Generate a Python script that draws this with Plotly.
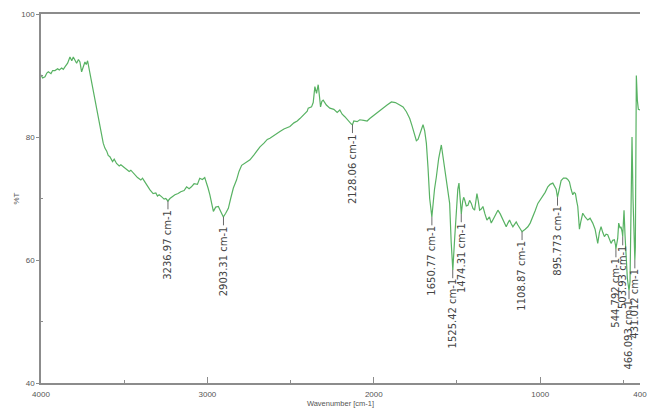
import plotly.graph_objects as go

wavenumber = [4000, 3990, 3976, 3965, 3956, 3940, 3930, 3916, 3900, 3890, 3876, 3866, 3856, 3840,
              3826, 3815, 3806, 3795, 3786, 3775, 3766, 3756, 3746, 3736, 3728, 3720, 3706, 3696,
              3686, 3676, 3666, 3656, 3646, 3636, 3626, 3616, 3605, 3596, 3586, 3570, 3560, 3546,
              3530, 3520, 3496, 3470, 3460, 3436, 3420, 3400, 3390, 3376, 3360, 3345, 3326, 3310,
              3300, 3290, 3276, 3260, 3250, 3237, 3225, 3210, 3195, 3176, 3160, 3140, 3125, 3110,
              3096, 3080, 3060, 3046, 3030, 3016, 3005, 2996, 2985, 2975, 2964, 2950, 2934, 2920,
              2904, 2890, 2874, 2860, 2844, 2825, 2810, 2794, 2770, 2744, 2720, 2700, 2684, 2660,
              2640, 2624, 2600, 2580, 2564, 2540, 2520, 2504, 2480, 2460, 2444, 2420, 2400, 2394,
              2374, 2364, 2354, 2344, 2334, 2326, 2320, 2312, 2304, 2285, 2264, 2240, 2220, 2204,
              2190, 2174, 2150, 2135, 2128, 2120, 2100, 2084, 2060, 2040, 2024, 2010, 1990, 1964,
              1940, 1920, 1894, 1870, 1844, 1824, 1804, 1784, 1770, 1755, 1744, 1734, 1720, 1704,
              1694, 1684, 1674, 1664, 1651, 1645, 1635, 1624, 1610, 1594, 1580, 1564, 1550, 1544,
              1535, 1525, 1515, 1504, 1495, 1488, 1480, 1474, 1466, 1460, 1454, 1444, 1434, 1424,
              1414, 1404, 1394, 1380, 1372, 1364, 1354, 1344, 1332, 1320, 1305, 1294, 1275, 1254,
              1240, 1224, 1212, 1204, 1194, 1184, 1174, 1164, 1154, 1144, 1134, 1124, 1109, 1090,
              1074, 1060, 1044, 1030, 1014, 1000, 984, 970, 954, 940, 924, 912, 904, 896, 885,
              874, 860, 844, 834, 824, 814, 804, 796, 788, 780, 774, 768, 764, 756, 744, 730,
              714, 700, 684, 670, 660, 654, 644, 634, 624, 614, 604, 594, 584, 574, 564, 554,
              547, 545, 534, 528, 520, 514, 507, 504, 500, 496, 490, 484, 476, 466, 460, 454,
              448, 442, 434, 431, 428, 422, 416, 410, 400]
transmittance = [90.1, 89.6, 89.8, 90.4, 90.6, 90.3, 90.8, 90.8, 91.1, 90.9, 91.2, 91.0, 91.4, 92.0,
                 93.0, 92.4, 93.0, 92.3, 92.0, 92.6, 92.2, 90.6, 91.6, 92.2, 91.8, 92.4, 90.4, 89.0,
                 87.6, 86.0, 84.4, 83.2, 81.7, 80.5, 79.0, 78.2, 77.7, 77.0, 76.8, 76.0, 76.4, 75.7,
                 75.3, 75.5, 74.9, 74.4, 74.6, 73.8, 73.4, 73.0, 73.3, 72.7, 72.0, 71.4, 70.8, 70.9,
                 70.4, 70.6, 70.3, 69.9, 70.0, 69.6, 70.0, 70.3, 70.6, 70.8, 71.1, 71.3, 71.9, 71.6,
                 71.9, 72.4, 72.3, 73.3, 73.1, 73.4, 72.6, 71.7, 70.6, 69.0, 67.9, 68.6, 68.7, 67.9,
                 67.0, 67.6, 68.4, 70.0, 71.7, 73.0, 74.4, 75.4, 75.9, 76.3, 77.1, 77.8, 78.4, 79.0,
                 79.6, 79.8, 80.3, 80.7, 80.9, 81.3, 81.5, 81.7, 82.3, 82.6, 83.0, 83.6, 84.2, 84.7,
                 84.9, 85.6, 88.2, 87.1, 88.5, 86.5, 84.9, 85.8, 86.0, 85.2, 84.7, 84.5, 84.0, 84.4,
                 83.7, 83.3, 82.5, 82.1, 82.0, 82.6, 82.5, 82.8, 82.7, 82.6, 83.0, 83.3, 83.8, 84.4,
                 84.8, 85.2, 85.7, 85.6, 85.2, 84.9, 84.1, 83.0, 81.8, 80.4, 79.4, 79.6, 80.6, 82.0,
                 81.0, 79.0, 75.0, 70.0, 67.0, 69.0, 71.5, 73.5, 76.5, 78.7, 76.0, 73.5, 71.0, 69.2,
                 63.0, 58.4, 63.0, 68.1, 71.5, 72.5, 70.0, 67.5, 69.5, 70.2, 69.8, 68.8, 68.9, 69.7,
                 69.2, 68.4, 68.1, 70.8, 69.6, 68.1, 68.3, 68.7, 67.5, 66.5, 67.0, 66.0, 67.0, 68.1,
                 67.5, 66.5, 65.8, 65.4, 66.0, 66.5, 65.9, 65.4, 65.8, 66.2, 65.7, 65.2, 64.6, 65.0,
                 65.4, 66.0, 67.0, 68.0, 69.2, 69.8, 70.3, 71.0, 71.9, 72.3, 72.5, 72.0, 71.5, 70.2, 71.5,
                 72.9, 73.3, 73.3, 73.1, 72.7, 71.5, 70.6, 71.0, 70.8, 69.5, 68.7, 66.5, 65.0, 66.2, 67.6, 67.0,
                 66.5, 66.8, 66.0, 65.0, 63.3, 62.7, 64.5, 65.4, 64.5, 63.8, 64.2, 64.1, 63.4, 62.7, 63.2, 63.3,
                 62.4, 61.8, 63.5, 66.0, 65.2, 65.4, 64.5, 63.8, 66.0, 68.1, 64.0, 61.5, 57.0, 55.0, 56.5, 68.0,
                 80.0, 70.0, 61.0, 60.0, 62.0, 90.0, 86.0, 84.5, 84.4]

peak_wavenumber = [3236.97, 2903.31, 2128.06, 1650.77, 1525.42, 1474.31, 1108.87, 895.773,
                   544.792, 503.93, 466.093, 431.012]
peak_transmittance = [69.6, 67.0, 82.0, 67.0, 58.4, 67.5, 64.6, 70.2, 61.8, 63.8, 55.0, 60.0]
peak_labels = ["3236.97 cm-1", "2903.31 cm-1", "2128.06 cm-1", "1650.77 cm-1", "1525.42 cm-1",
               "1474.31 cm-1", "1108.87 cm-1", "895.773 cm-1", "544.792 cm-1", "503.93 cm-1",
               "466.093 cm-1", "431.012 cm-1"]

x_tickvals = [4000, 3000, 2000, 1000, 400]
x_ticktext = ["4000", "3000", "2000", "1000", "400"]
x_minor = [3500, 2500, 1500, 500]
y_tickvals = [100, 80, 60, 40]
y_minor = [90, 70, 50]

# approximate DejaVu Sans glyph advance widths (em) to offset rotated labels
GLYPH_EM = {".": 0.318, " ": 0.318, "c": 0.55, "m": 0.974, "-": 0.361}
LABEL_SIZE = 10
LEAD = 9  # length of the leader line in px


def text_px(s, size):
    return sum(GLYPH_EM.get(ch, 0.636) for ch in s) * size


fig = go.Figure()
fig.add_trace(go.Scatter(x=wavenumber, y=transmittance, mode="lines",
                         line=dict(color="#58b263", width=1.2), showlegend=False,
                         hoverinfo="skip"))

for wn, t, lab in zip(peak_wavenumber, peak_transmittance, peak_labels):
    fig.add_annotation(x=wn, y=t, text=lab, textangle=-90, showarrow=True,
                       arrowhead=0, arrowwidth=0.8, arrowcolor="#444",
                       ax=0, ay=LEAD + text_px(lab, LABEL_SIZE) / 2,
                       font=dict(family="DejaVu Sans", size=LABEL_SIZE, color="#444"),
                       borderpad=0)

axis_line = "#8c8c8c"
# the page body has an 8px margin; the figure is sized to fill the rest of the window
fig.update_layout(
    width=651, height=403,
    margin=dict(l=33, r=19, t=6, b=28),
    paper_bgcolor="white", plot_bgcolor="white",
    font=dict(family="Liberation Sans", size=8, color="#555"),
    xaxis=dict(range=[4000, 400], tickvals=x_tickvals, ticktext=x_ticktext,
               showgrid=False, zeroline=False, showline=True, linecolor=axis_line,
               linewidth=1.5, mirror=True, ticks="inside", ticklen=6, tickcolor=axis_line,
               tickfont=dict(size=8, color="#555"), ticklabelstandoff=3,
               minor=dict(tickvals=x_minor, ticks="inside", ticklen=3, tickcolor=axis_line),
               title=dict(text="Wavenumber [cm-1]", font=dict(size=7.5, color="#555"),
                          standoff=2),
               automargin=False),
    yaxis=dict(range=[40, 100], tickvals=y_tickvals, showgrid=False, zeroline=False,
               showline=True, linecolor=axis_line, linewidth=1.5, ticks="outside",
               ticklen=3, tickcolor=axis_line, tickfont=dict(size=8, color="#555"),
               minor=dict(tickvals=y_minor, ticks="inside", ticklen=2, tickcolor=axis_line),
               title=dict(text="%T", font=dict(size=8, color="#555"), standoff=0),
               automargin=False),
)

fig.write_html("out.html")
